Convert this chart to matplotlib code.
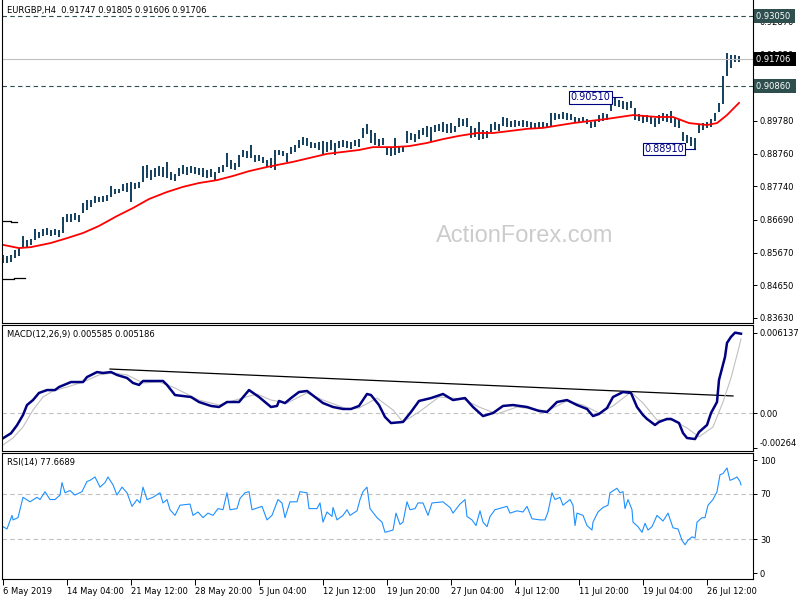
import numpy as np
import matplotlib
matplotlib.use('Agg')
import matplotlib.pyplot as plt

# EURGBP H4 - bars (one bar per two H4 periods)
bar_high = [0.8559, 0.8556, 0.8559, 0.8575, 0.8581, 0.8619, 0.8606, 0.8609, 0.8640, 0.8631,
            0.8640, 0.8644, 0.8637, 0.8640, 0.8637, 0.8678, 0.8687, 0.8687, 0.8690, 0.8684,
            0.8722, 0.8731, 0.8731, 0.8743, 0.8740, 0.8743, 0.8747, 0.8775, 0.8765, 0.8765,
            0.8781, 0.8784, 0.8787, 0.8784, 0.8787, 0.8837, 0.8840, 0.8825, 0.8831, 0.8837,
            0.8834, 0.8850, 0.8818, 0.8812, 0.8831, 0.8840, 0.8834, 0.8837, 0.8834, 0.8831,
            0.8831, 0.8825, 0.8828, 0.8818, 0.8834, 0.8840, 0.8878, 0.8856, 0.8846, 0.8871,
            0.8887, 0.8884, 0.8903, 0.8871, 0.8871, 0.8865, 0.8856, 0.8862, 0.8887, 0.8887,
            0.8884, 0.8878, 0.8896, 0.8903, 0.8918, 0.8928, 0.8924, 0.8912, 0.8909, 0.8912,
            0.8915, 0.8912, 0.8918, 0.8909, 0.8915, 0.8918, 0.8915, 0.8912, 0.8918, 0.8921,
            0.8956, 0.8968, 0.8949, 0.8940, 0.8921, 0.8924, 0.8896, 0.8893, 0.8924, 0.8896,
            0.8899, 0.8946, 0.8940, 0.8937, 0.8949, 0.8956, 0.8962, 0.8959, 0.8965, 0.8968,
            0.8974, 0.8968, 0.8971, 0.8962, 0.8987, 0.8984, 0.8987, 0.8962, 0.8956, 0.8974,
            0.8949, 0.8946, 0.8968, 0.8974, 0.8968, 0.8990, 0.8987, 0.8978, 0.8981, 0.8978,
            0.8981, 0.8978, 0.8974, 0.8971, 0.8974, 0.8974, 0.8971, 0.9002, 0.9002, 0.8999,
            0.9006, 0.9002, 0.8999, 0.8990, 0.8987, 0.8990, 0.8984, 0.8974, 0.8978, 0.8996,
            0.9002, 0.8999, 0.9046, 0.9051, 0.9043, 0.9040, 0.9037, 0.9040, 0.9018, 0.8999,
            0.8993, 0.8996, 0.8993, 0.8987, 0.8996, 0.9002, 0.8999, 0.9009, 0.8987, 0.8984,
            0.8943, 0.8934, 0.8928, 0.8924, 0.8968, 0.8971, 0.8974, 0.8984, 0.9002, 0.9034,
            0.9118, 0.9190, 0.9183, 0.9183, 0.9180]
bar_low = [0.8534, 0.8534, 0.8538, 0.8550, 0.8556, 0.8581, 0.8584, 0.8591, 0.8606, 0.8612,
           0.8619, 0.8622, 0.8619, 0.8622, 0.8616, 0.8628, 0.8662, 0.8662, 0.8669, 0.8662,
           0.8690, 0.8700, 0.8709, 0.8722, 0.8725, 0.8725, 0.8728, 0.8740, 0.8750, 0.8753,
           0.8759, 0.8756, 0.8725, 0.8765, 0.8768, 0.8787, 0.8800, 0.8793, 0.8803, 0.8806,
           0.8803, 0.8800, 0.8793, 0.8790, 0.8806, 0.8812, 0.8809, 0.8815, 0.8812, 0.8809,
           0.8803, 0.8800, 0.8803, 0.8793, 0.8815, 0.8818, 0.8834, 0.8828, 0.8825, 0.8834,
           0.8865, 0.8862, 0.8862, 0.8850, 0.8853, 0.8846, 0.8834, 0.8831, 0.8825, 0.8871,
           0.8868, 0.8850, 0.8875, 0.8881, 0.8893, 0.8903, 0.8899, 0.8893, 0.8893, 0.8887,
           0.8871, 0.8881, 0.8887, 0.8871, 0.8893, 0.8896, 0.8893, 0.8890, 0.8899, 0.8896,
           0.8924, 0.8937, 0.8909, 0.8903, 0.8899, 0.8903, 0.8871, 0.8868, 0.8871, 0.8878,
           0.8881, 0.8909, 0.8918, 0.8912, 0.8921, 0.8934, 0.8928, 0.8912, 0.8943, 0.8946,
           0.8943, 0.8940, 0.8940, 0.8943, 0.8959, 0.8962, 0.8959, 0.8924, 0.8928, 0.8918,
           0.8921, 0.8924, 0.8943, 0.8949, 0.8946, 0.8962, 0.8959, 0.8959, 0.8959, 0.8962,
           0.8959, 0.8959, 0.8956, 0.8956, 0.8953, 0.8956, 0.8956, 0.8959, 0.8981, 0.8984,
           0.8984, 0.8981, 0.8981, 0.8971, 0.8971, 0.8974, 0.8968, 0.8956, 0.8959, 0.8974,
           0.8978, 0.8981, 0.9009, 0.9024, 0.9021, 0.9015, 0.9012, 0.9018, 0.8981, 0.8978,
           0.8971, 0.8974, 0.8968, 0.8959, 0.8968, 0.8978, 0.8974, 0.8971, 0.8959, 0.8956,
           0.8915, 0.8909, 0.8899, 0.8891, 0.8940, 0.8949, 0.8956, 0.8959, 0.8978, 0.9006,
           0.9031, 0.9118, 0.9143, 0.9162, 0.9161]
bar_step = 2

# moving average (red)
ma_bar = [0, 8, 14, 24, 32, 40, 48, 57, 65, 73, 82, 90, 98, 107, 115, 123, 132, 145, 162, 178,
          185, 195, 203, 212, 220, 228, 237, 245, 253, 262, 270, 285, 302, 315, 327, 335, 343,
          352, 357, 362, 368]
ma_val = [0.8591, 0.8581, 0.8584, 0.8597, 0.8612, 0.8628, 0.8650, 0.8681, 0.8706, 0.8734,
          0.8756, 0.8772, 0.8784, 0.8793, 0.8806, 0.8821, 0.8834, 0.8850, 0.8875, 0.8887,
          0.8896, 0.8896, 0.8899, 0.8909, 0.8921, 0.8931, 0.8940, 0.8940, 0.8946, 0.8953,
          0.8956, 0.8971, 0.8984, 0.8996, 0.8990, 0.8990, 0.8971, 0.8965, 0.8971, 0.8996, 0.9034]

# MACD(12,26,9)
macd_bar = [0, 4, 7, 10, 12, 15, 18, 22, 26, 28, 34, 40, 42, 47, 50, 54, 57, 62, 65, 68,
            70, 75, 80, 82, 86, 94, 98, 104, 108, 112, 118, 123, 128, 134, 137, 138, 141, 144, 148, 152,
            156, 160, 165, 170, 174, 178, 182, 184, 188, 191, 194, 200, 204, 208, 214, 220, 225, 231, 235, 240,
            245, 250, 255, 262, 268, 272, 277, 282, 287, 292, 295, 298, 302, 305, 310, 314, 317, 320, 322, 326,
            328, 332, 334, 338, 340, 342, 346, 348, 352, 354, 357, 358, 361, 362, 364, 366, 369]
macd_val = [-0.00190, -0.00152, -0.00091, -0.00013, 0.00063, 0.00101, 0.00155, 0.00177, 0.00177, 0.00200,
            0.00238, 0.00238, 0.00276, 0.00314, 0.00307, 0.00314, 0.00292, 0.00269, 0.00231, 0.00216,
            0.00246, 0.00246, 0.00246, 0.00216, 0.00139, 0.00124, 0.00086, 0.00056, 0.00048, 0.00086,
            0.00086, 0.00177, 0.00124, 0.00048, 0.00056, 0.00094, 0.00078, 0.00116, 0.00162, 0.00170,
            0.00124, 0.00078, 0.00048, 0.00033, 0.00033, 0.00056, 0.00147, 0.00139, 0.00063, -0.00028,
            -0.00074, -0.00066, 0.00010, 0.00094, 0.00116, 0.00147, 0.00101, 0.00116, 0.00048, -0.00021,
            0.00002, 0.00056, 0.00063, 0.00048, 0.00018, 0.00010, 0.00086, 0.00101, 0.00063, 0.00033,
            -0.00021, -0.00005, 0.00040, 0.00124, 0.00162, 0.00155, 0.00048, -0.00013, -0.00043, -0.00089,
            -0.00066, -0.00043, -0.00043, -0.00074, -0.00150, -0.00188, -0.00196, -0.00143, -0.00089, 0.00002,
            0.00086, 0.00254, 0.00429, 0.00536, 0.00582, 0.00614, 0.00606]
signal_bar = [0, 5, 10, 15, 20, 25, 32, 40, 48, 55, 62, 70, 78, 85, 98, 108, 118, 127, 134, 142,
              152, 160, 172, 178, 187, 195, 200, 208, 218, 230, 238, 247, 257, 272, 282, 290, 298, 305, 314, 320,
              327, 335, 342, 348, 355, 360, 364, 367, 369]
signal_val = [-0.00241, -0.00188, -0.00104, 0.00025, 0.00124, 0.00170, 0.00200, 0.00238, 0.00292, 0.00307,
              0.00292, 0.00231, 0.00238, 0.00200, 0.00101, 0.00063, 0.00109, 0.00147, 0.00101, 0.00078,
              0.00155, 0.00101, 0.00033, 0.00040, 0.00116, 0.00025, -0.00066, 0.00010, 0.00124, 0.00109,
              0.00048, -0.00005, 0.00048, 0.00018, 0.00094, 0.00063, 0.00002, 0.00056, 0.00162, 0.00078,
              -0.00051, -0.00051, -0.00112, -0.00180, -0.00104, 0.00086, 0.00269, 0.00444, 0.00566]
macd_trend_bar = [53.5, 365]
macd_trend_val = [0.00337, 0.00132]

# RSI(14)
rsi_bar = [0, 2, 4.5, 5, 7.5, 10, 13.5, 17, 18.5, 21, 23.5, 26, 28.5, 29.5, 31, 33.5, 36, 39.5, 42, 43.5,
           46, 48.5, 51, 52.5, 55, 57, 59.5, 62, 64.5, 67, 68.5, 70, 72, 75, 78.5, 80, 82, 83.5, 86, 88.5,
           93.5, 95, 97.5, 100, 102.5, 105, 107.5, 110, 112, 113.5, 117, 118.5, 121, 123, 124.5, 129.5, 132,
           134.5, 137.5, 139.5, 141, 143.5, 147, 148.5, 152, 153, 157, 158.5, 160, 162, 164.5, 165, 167, 170,
           172, 173.5, 177, 178.5, 180, 182, 183.5, 187, 189.5, 191, 195, 196.5, 198.5, 200, 202, 203.5, 206,
           207.5, 210, 212.5, 214.5, 220, 223.5, 225, 228.5, 231, 232, 234.5, 236.5, 238.5, 240, 242, 243.5,
           246, 250, 252, 253.5, 257, 260, 262, 264.5, 268.5, 271, 272.5, 274.5, 276, 278.5, 280, 283.5, 285,
           286, 287, 290, 292, 294.5, 295, 297.5, 300, 302.5, 303.5, 307, 308.5, 310, 311, 312.5, 314.5, 315,
           317.5, 319.5, 321, 322.5, 324.5, 327, 330, 332.5, 335, 337.5, 339.5, 341, 342.5, 344.5, 346, 347,
           349.5, 351, 352.5, 355, 357, 358.5, 360, 362, 363.5, 365, 367, 368.5, 369]
rsi_val = [41, 39, 51, 47, 49, 67, 63, 67, 65, 72, 65, 65, 69, 80, 71, 73, 69, 72, 81, 82,
           85, 76, 80, 85, 78, 69, 76, 71, 59, 65, 62, 76, 65, 67, 71, 62, 65, 56, 51, 60,
           61, 51, 54, 49, 53, 51, 57, 56, 71, 56, 57, 66, 71, 72, 56, 59, 47, 51, 65, 62,
           49, 63, 63, 72, 71, 57, 57, 62, 45, 54, 50, 58, 47, 51, 56, 51, 55, 65, 72, 76,
           57, 49, 45, 36, 38, 53, 43, 45, 63, 56, 57, 62, 62, 51, 62, 63, 58, 53, 61, 65,
           50, 47, 42, 55, 45, 41, 50, 56, 58, 59, 53, 55, 54, 59, 48, 47, 47, 54, 71, 65,
           67, 60, 65, 60, 42, 53, 51, 42, 38, 45, 54, 58, 60, 71, 75, 71, 72, 57, 65, 56,
           45, 41, 36, 44, 38, 41, 51, 46, 53, 40, 39, 29, 25, 29, 32, 31, 45, 49, 49, 60,
           65, 72, 87, 88, 93, 82, 83, 85, 81, 78]

time_labels = ['6 May 2019', '14 May 04:00', '21 May 12:00', '28 May 20:00', '5 Jun 04:00',
               '12 Jun 12:00', '19 Jun 20:00', '27 Jun 04:00', '4 Jul 12:00', '11 Jul 20:00',
               '19 Jul 04:00', '26 Jul 12:00']
time_label_bar = [0, 32, 64, 96, 128, 160, 192, 224, 256, 288, 320, 352]
price_ticks = [0.92870, 0.91850, 0.90830, 0.89780, 0.88760, 0.87740, 0.86690, 0.85670, 0.84650, 0.83630]
level_lines = [0.93050, 0.90860]
bid_price = 0.91706
swing_high, swing_high_bar = 0.90510, 306
swing_low, swing_low_bar = 0.88910, 346
old_lines = [([-0.5, 4], 0.8666), ([4, 7], 0.8662), ([-0.5, 5.5], 0.8485), ([5.5, 11], 0.8488)]

plt.rcParams['font.family'] = 'DejaVu Sans'
plt.rcParams['font.size'] = 6

W, H = 800, 600
fig = plt.figure(figsize=(8, 6), dpi=100)
fig.patch.set_facecolor('white')


def pane(top, bottom):
    a = fig.add_axes([2 / W, 1 - bottom / H, 751 / W, (bottom - top) / H])
    a.set_xlim(-0.5, 375)
    for s in a.spines.values():
        s.set_linewidth(0.8)
        s.set_color('black')
    a.yaxis.tick_right()
    a.tick_params(axis='y', direction='out', length=3, width=0.7, labelsize=6, pad=2)
    a.tick_params(axis='x', bottom=False, labelbottom=False)
    return a


# ---------------- main pane ----------------
ax = pane(0, 322.5)
ax.spines['top'].set_visible(False)
ax.set_ylim(0.83488, 0.9355)

x_bars = np.arange(len(bar_high)) * bar_step
ax.vlines(x_bars, bar_low, bar_high, color='#123f5e', lw=1.4)
ax.plot(ma_bar, ma_val, color='#ff0000', lw=1.3)

for lv in level_lines:
    ax.axhline(lv, color='#2f4f4f', lw=0.8, dashes=(4, 3))
ax.axhline(bid_price, color='#c0c0c0', lw=0.8)
for xs, lv in old_lines:
    ax.plot(xs, [lv, lv], color='black', lw=0.9)

ax.set_yticks(price_ticks)
ax.set_yticklabels(['%.5f' % v for v in price_ticks])

ytr = ax.get_yaxis_transform()
for lv, bg in [(0.93050, '#2f4f4f'), (bid_price, 'black'), (0.90860, '#2f4f4f')]:
    ax.text(1.004, lv, '%.5f ' % lv, transform=ytr, ha='left', va='center', color='white',
            fontsize=6, clip_on=False, zorder=5,
            bbox=dict(boxstyle='square,pad=0.3', fc=bg, ec='none'))

# swing labels
ax.plot([swing_high_bar - 1.5, swing_high_bar + 3.5], [swing_high, swing_high], color='#000080', lw=0.8)
ax.text(swing_high_bar - 12.3, swing_high, '%.5f' % swing_high, ha='center', va='center',
        color='#000080', fontsize=7,
        bbox=dict(boxstyle='square,pad=0.12', fc='white', ec='#000080', lw=0.8))
ax.plot([swing_low_bar - 5, swing_low_bar], [swing_low, swing_low], color='#000080', lw=0.8)
ax.text(swing_low_bar - 15.5, swing_low, '%.5f' % swing_low, ha='center', va='center',
        color='#000080', fontsize=7,
        bbox=dict(boxstyle='square,pad=0.12', fc='white', ec='#000080', lw=0.8))

fig.text(7 / W, 1 - 11 / H, 'EURGBP,H4  0.91747 0.91805 0.91606 0.91706', ha='left', va='center',
         fontsize=6, color='black')
fig.text(525 / W, 1 - 236 / H, 'ActionForex.com', ha='center', va='center', fontsize=17,
         family='Liberation Sans', color='#cccccc')

# ---------------- MACD pane ----------------
am = pane(324.5, 451)
am.set_ylim(-0.002870, 0.006761)
am.axhline(0, color='#c0c0c0', lw=0.8, dashes=(4, 3))
am.plot(macd_trend_bar, macd_trend_val, color='black', lw=0.9)
am.plot(signal_bar, signal_val, color='#c0c0c0', lw=0.8)
am.plot(macd_bar, macd_val, color='#000080', lw=1.8)
am.set_yticks([0.006137, 0.0, -0.00264])
am.set_yticklabels(['0.006137', '0.00', '-0.00264'])
am.get_yticklabels()[2].set_va('bottom')
fig.text(7 / W, 1 - 335 / H, 'MACD(12,26,9) 0.005585 0.005186', ha='left', va='center', fontsize=6)

# ---------------- RSI pane ----------------
ar = pane(453, 579)
ar.set_ylim(-5.3, 106.2)
for lv in [70, 30]:
    ar.axhline(lv, color='#c0c0c0', lw=0.8, dashes=(4, 3))
ar.plot(rsi_bar, rsi_val, color='#1e90ff', lw=0.8)
ar.set_yticks([100, 70, 30, 0])
ar.set_yticklabels(['100', '70', '30', '0'])
fig.text(7 / W, 1 - 463 / H, 'RSI(14) 77.6689', ha='left', va='center', fontsize=6)

ar.tick_params(axis='x', bottom=True, labelbottom=True, direction='out', length=4, width=0.7,
               labelsize=6, pad=2)
ar.set_xticks(time_label_bar)
ar.set_xticklabels(time_labels)
for lbl in ar.get_xticklabels():
    lbl.set_ha('left')

fig.savefig('out.png', dpi=100)
